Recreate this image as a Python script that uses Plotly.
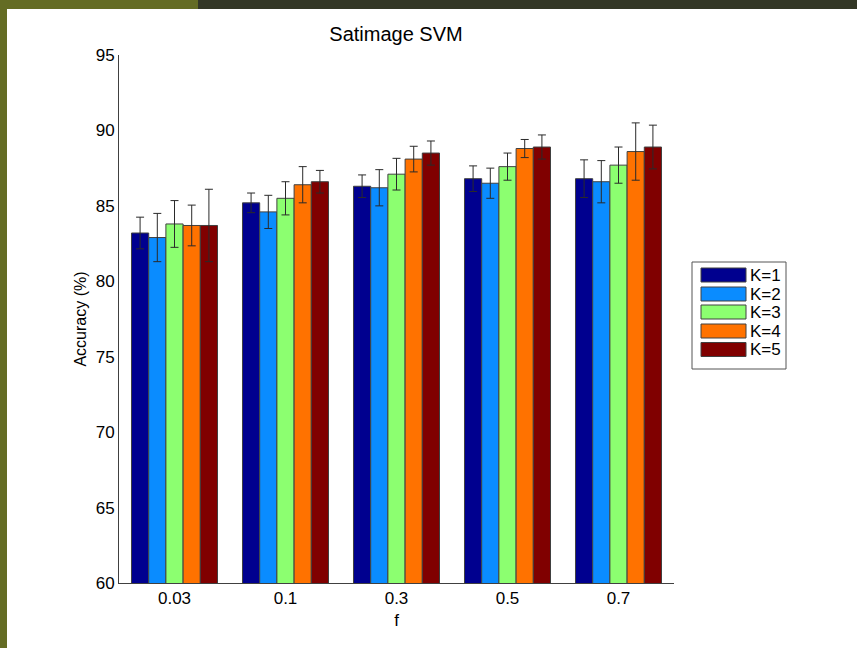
import plotly.graph_objects as go

# ---- data ----
categories = ["0.03", "0.1", "0.3", "0.5", "0.7"]
series_names = ["K=1", "K=2", "K=3", "K=4", "K=5"]
acc_k1 = [83.2, 85.2, 86.3, 86.8, 86.8]
acc_k2 = [82.9, 84.6, 86.2, 86.5, 86.6]
acc_k3 = [83.8, 85.5, 87.1, 87.6, 87.7]
acc_k4 = [83.7, 86.4, 88.1, 88.8, 88.6]
acc_k5 = [83.7, 86.6, 88.5, 88.9, 88.9]
err_k1 = [1.05, 0.65, 0.75, 0.85, 1.25]
err_k2 = [1.6, 1.1, 1.2, 1.0, 1.4]
err_k3 = [1.55, 1.1, 1.05, 0.9, 1.2]
err_k4 = [1.35, 1.2, 0.85, 0.6, 1.9]
err_k5 = [2.4, 0.75, 0.8, 0.8, 1.45]
y_ticks = [60, 65, 70, 75, 80, 85, 90, 95]

values = [acc_k1, acc_k2, acc_k3, acc_k4, acc_k5]
errors = [err_k1, err_k2, err_k3, err_k4, err_k5]
colors = ["#00008F", "#0A8CFF", "#8CFF70", "#FF7200", "#800000"]

W, H = 857, 648
L, R, T, B = 119, 674, 55, 583
FONT = "Liberation Sans, Arial, sans-serif"


def px(x):
    return (x - L) / (R - L)


def py(y):
    return (B - y) / (B - T)


fig = go.Figure()
for name, v, e, c in zip(series_names, values, errors, colors):
    fig.add_trace(go.Bar(
        x=categories, y=v, name=name,
        marker=dict(color=c, line=dict(color="#404040", width=1)),
        error_y=dict(type="data", array=e, visible=True,
                     color="#2a2a2a", thickness=1, width=4),
        showlegend=False,
    ))

shapes = [
    # page decoration: top band and left strip
    dict(type="rect", xref="paper", yref="paper", layer="below",
         x0=px(0), x1=px(198), y0=py(9), y1=py(0),
         fillcolor="#646C24", line=dict(width=0)),
    dict(type="rect", xref="paper", yref="paper", layer="below",
         x0=px(198), x1=px(W), y0=py(9), y1=py(0),
         fillcolor="#333726", line=dict(width=0)),
    dict(type="rect", xref="paper", yref="paper", layer="below",
         x0=px(0), x1=px(7), y0=py(H), y1=py(0),
         fillcolor="#646C24", line=dict(width=0)),
    # legend box
    dict(type="rect", xref="paper", yref="paper", layer="above",
         x0=px(692), x1=px(786), y0=py(369), y1=py(262),
         fillcolor="white", line=dict(color="#555555", width=1)),
]
annotations = []
row_y = [275, 294, 312, 331, 349.5]
for name, c, yc in zip(series_names, colors, row_y):
    shapes.append(dict(type="rect", xref="paper", yref="paper", layer="above",
                       x0=px(701), x1=px(746), y0=py(yc + 7), y1=py(yc - 7),
                       fillcolor=c, line=dict(color="#404040", width=1)))
    annotations.append(dict(xref="paper", yref="paper", x=px(748), y=py(yc),
                            xanchor="left", yanchor="middle", showarrow=False,
                            text=name, font=dict(family=FONT, size=17, color="black")))

fig.update_layout(
    width=W, height=H,
    margin=dict(l=L, r=W - R, t=T, b=H - B, pad=0),
    paper_bgcolor="white", plot_bgcolor="white",
    barmode="group", bargap=0.225, bargroupgap=0,
    font=dict(family=FONT, size=16, color="black"),
    title=dict(text="Satimage SVM", x=px(396), xref="paper", xanchor="center",
               y=1 - 34 / H, yanchor="middle",
               font=dict(family=FONT, size=20, color="black")),
    xaxis=dict(range=[-0.5, 4.5], showline=True, linecolor="#404040", linewidth=1,
               ticks="", showgrid=False, zeroline=False, mirror=False,
               tickfont=dict(family=FONT, size=17),
               title=dict(text="f", font=dict(family=FONT, size=17), standoff=6)),
    yaxis=dict(range=[60, 95], tickvals=y_ticks, showline=True, linecolor="#404040",
               linewidth=1, ticks="", showgrid=False, zeroline=False,
               tickfont=dict(family=FONT, size=17),
               title=dict(text="Accuracy (%)", font=dict(family=FONT, size=16), standoff=5)),
    shapes=shapes, annotations=annotations,
)

fig.write_html("out.html", config={"displayModeBar": False},
               post_script="document.body.style.margin='0';document.body.style.overflow='hidden';")
